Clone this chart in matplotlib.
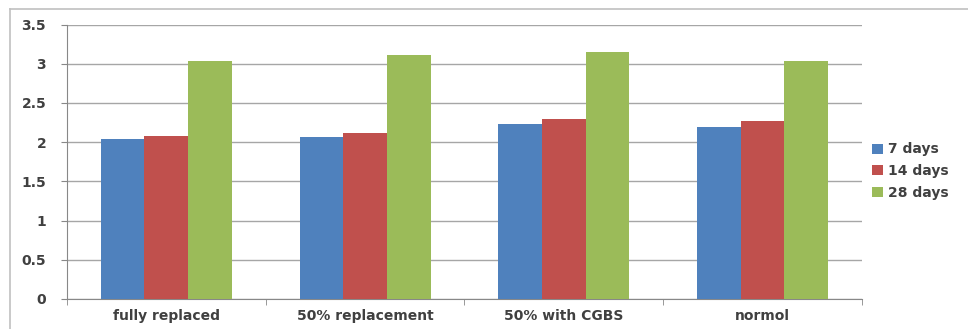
import numpy as np
import matplotlib
matplotlib.use('Agg')
import matplotlib.pyplot as plt
from matplotlib.lines import Line2D

# 数据
categories = ['fully replaced', '50% replacement', '50% with CGBS', 'normol']
series_names = ['7 days', '14 days', '28 days']
days_7 = [2.04, 2.07, 2.23, 2.19]
days_14 = [2.08, 2.12, 2.30, 2.27]
days_28 = [3.04, 3.11, 3.15, 3.03]
colors = ['#4F81BD', '#C0504D', '#9BBB59']
y_ticks = [0, 0.5, 1, 1.5, 2, 2.5, 3, 3.5]
y_labels = ['0', '0.5', '1', '1.5', '2', '2.5', '3', '3.5']

plt.rcParams['font.family'] = ['DejaVu Sans']
text_color = '#404040'
fsize = 10

fig = plt.figure(figsize=(9.68, 3.29), dpi=100)
ax = fig.add_axes([0.0692, 0.0912, 0.8213, 0.8343])

x = np.arange(len(categories))
width = 0.22
for i, vals in enumerate([days_7, days_14, days_28]):
    ax.bar(x + (i - 1) * width, vals, width, color=colors[i],
           label=series_names[i], zorder=3)

ax.set_xlim(-0.5, len(categories) - 0.5)
ax.set_ylim(0, 3.5)
ax.set_yticks(y_ticks)
ax.set_yticklabels(y_labels)
ax.yaxis.grid(True, color='#a6a6a6', linewidth=1.0, zorder=0)

# 主刻度放标签，次刻度画分隔线
ax.set_xticks(x)
ax.set_xticklabels(categories)
ax.set_xticks(np.arange(len(categories) + 1) - 0.5, minor=True)
ax.tick_params(axis='x', which='major', length=0, pad=7,
               labelsize=fsize, labelcolor=text_color)
ax.tick_params(axis='x', which='minor', length=4, color='#888888',
               direction='out')
ax.tick_params(axis='y', length=4, color='#888888', pad=11,
               labelsize=fsize, labelcolor=text_color)
for lab in ax.get_xticklabels() + ax.get_yticklabels():
    lab.set_fontweight('bold')

for s in ['top', 'right']:
    ax.spines[s].set_visible(False)
ax.spines['left'].set_color('#888888')
ax.spines['bottom'].set_color('#888888')

leg = ax.legend(loc='center left', bbox_to_anchor=(0.997, 0.466),
                frameon=False, handlelength=0.8, handleheight=0.75,
                handletextpad=0.35, labelspacing=0.55,
                prop={'size': fsize, 'weight': 'bold'})
for t in leg.get_texts():
    t.set_color(text_color)

# 外边框（右侧和底部被裁掉）
fig.add_artist(Line2D([10 / 968, 10 / 968], [0, 1 - 9 / 329],
                      transform=fig.transFigure, color='#c0c0c0', lw=1.2))
fig.add_artist(Line2D([10 / 968, 1], [1 - 9 / 329, 1 - 9 / 329],
                      transform=fig.transFigure, color='#c0c0c0', lw=1.2))

fig.savefig('out.png', dpi=100)
